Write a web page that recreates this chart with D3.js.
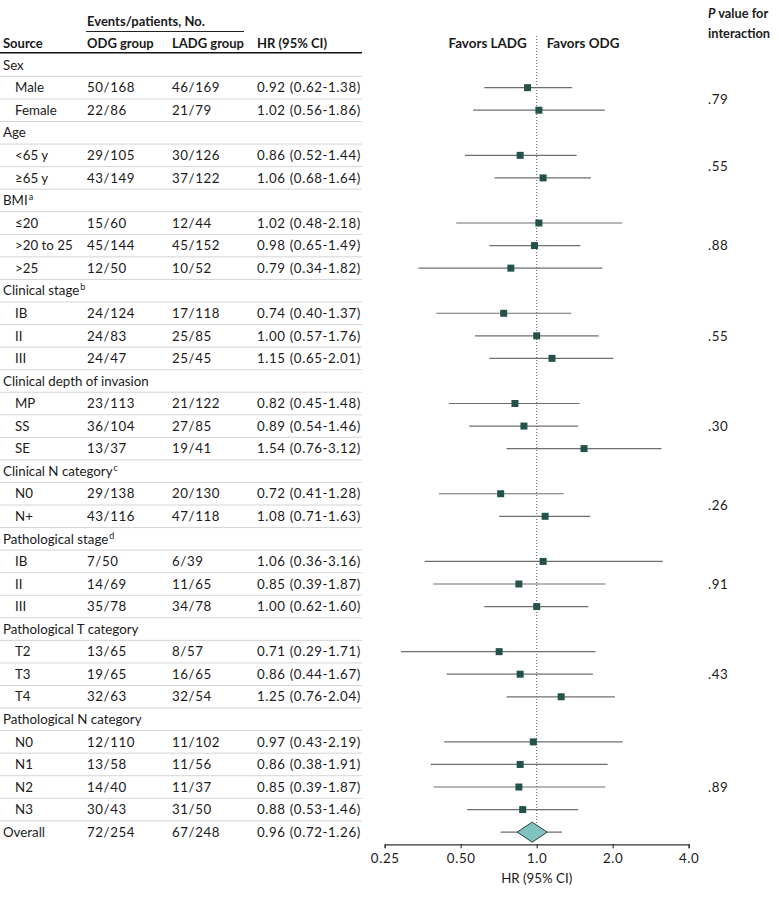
<!DOCTYPE html>
<html>
<head>
<meta charset="utf-8">
<script src="https://cdn.jsdelivr.net/npm/d3@7"></script>
<style>
  html, body { margin: 0; padding: 0; background: #fff; }
  svg { display: block; font-family: Lato, "Open Sans", sans-serif; }
</style>
</head>
<body>
<svg id="chart" width="780" height="897"></svg>
<script>
// ---------------- data ----------------
const groupNames = ["Sex", "Age", "BMI", "Clinical stage", "Clinical depth of invasion",
  "Clinical N category", "Pathological stage", "Pathological T category", "Pathological N category"];
const groupNotes = ["", "", "a", "b", "", "c", "d", "", ""];
const pValues = [".79", ".55", ".88", ".55", ".30", ".26", ".91", ".43", ".89"];

const subLabels = ["Male", "Female", "<65 y", "≥65 y", "≤20", ">20 to 25", ">25",
  "IB", "II", "III", "MP", "SS", "SE", "N0", "N+", "IB", "II", "III",
  "T2", "T3", "T4", "N0", "N1", "N2", "N3"];
const subGroup = [0, 0, 1, 1, 2, 2, 2, 3, 3, 3, 4, 4, 4, 5, 5, 6, 6, 6, 7, 7, 7, 8, 8, 8, 8];
const odgEvents = ["50/168", "22/86", "29/105", "43/149", "15/60", "45/144", "12/50",
  "24/124", "24/83", "24/47", "23/113", "36/104", "13/37", "29/138", "43/116",
  "7/50", "14/69", "35/78", "13/65", "19/65", "32/63", "12/110", "13/58", "14/40", "30/43"];
const ladgEvents = ["46/169", "21/79", "30/126", "37/122", "12/44", "45/152", "10/52",
  "17/118", "25/85", "25/45", "21/122", "27/85", "19/41", "20/130", "47/118",
  "6/39", "11/65", "34/78", "8/57", "16/65", "32/54", "11/102", "11/56", "11/37", "31/50"];
const hrValues = [0.92, 1.02, 0.86, 1.06, 1.02, 0.98, 0.79, 0.74, 1.00, 1.15, 0.82, 0.89, 1.54,
  0.72, 1.08, 1.06, 0.85, 1.00, 0.71, 0.86, 1.25, 0.97, 0.86, 0.85, 0.88];
const hrLower = [0.62, 0.56, 0.52, 0.68, 0.48, 0.65, 0.34, 0.40, 0.57, 0.65, 0.45, 0.54, 0.76,
  0.41, 0.71, 0.36, 0.39, 0.62, 0.29, 0.44, 0.76, 0.43, 0.38, 0.39, 0.53];
const hrUpper = [1.38, 1.86, 1.44, 1.64, 2.18, 1.49, 1.82, 1.37, 1.76, 2.01, 1.48, 1.46, 3.12,
  1.28, 1.63, 3.16, 1.87, 1.60, 1.71, 1.67, 2.04, 2.19, 1.91, 1.87, 1.46];

const overallLabel = "Overall";
const overallOdg = "72/254";
const overallLadg = "67/248";
const overallHR = 0.96, overallLower = 0.72, overallUpper = 1.26;

const axisTicks = [0.25, 0.5, 1, 2, 4];
const axisTickLabels = ["0.25", "0.50", "1.0", "2.0", "4.0"];

// ---------------- build rows ----------------
const rows = [];
groupNames.forEach((g, gi) => {
  rows.push({ type: "group", label: g, note: groupNotes[gi], gi });
  subLabels.forEach((s, i) => {
    if (subGroup[i] === gi) rows.push({ type: "sub", label: s, odg: odgEvents[i], ladg: ladgEvents[i],
      hr: hrValues[i], lo: hrLower[i], hi: hrUpper[i], gi });
  });
});
rows.push({ type: "overall", label: overallLabel, odg: overallOdg, ladg: overallLadg,
  hr: overallHR, lo: overallLower, hi: overallUpper });

// ---------------- layout ----------------
const svg = d3.select("#chart");
const textColor = "#1a1a1a";
const fs = 13.3;
const fsHead = 13;
const numSpacing = 0.6;
const rowY = d3.scaleLinear().domain([0, 1]).range([65.1, 65.1 + 22.56]);
const x = d3.scaleLog().base(2).domain([0.25, 4]).range([384.7, 688.7]);
const col = { src: 3, sub: 15, odg: 87, ladg: 172, hr: 257, tableEnd: 362, p: 708 };
const capHalf = 4.7;

// header
const hdr = svg.append("g").attr("font-size", fsHead).attr("fill", textColor).attr("font-weight", "bold");
hdr.append("text").attr("x", col.odg).attr("y", 21 + capHalf).text("Events/patients, No.");
svg.append("line").attr("x1", 86).attr("x2", 244).attr("y1", 31.5).attr("y2", 31.5)
  .attr("stroke", "#222").attr("stroke-width", 1);
hdr.append("text").attr("x", col.src).attr("y", 43 + capHalf).text("Source");
hdr.append("text").attr("x", col.odg).attr("y", 43 + capHalf).text("ODG group");
hdr.append("text").attr("x", col.ladg).attr("y", 43 + capHalf).text("LADG group");
hdr.append("text").attr("x", col.hr).attr("y", 43 + capHalf).text("HR (95% CI)");
svg.append("line").attr("x1", 0).attr("x2", col.tableEnd).attr("y1", 52.8).attr("y2", 52.8)
  .attr("stroke", "#111").attr("stroke-width", 1.6);

// P value header
const ph = hdr.append("text").attr("x", col.p).attr("y", 13.5 + capHalf).attr("font-size", 12.8);
ph.append("tspan").attr("font-style", "italic").text("P");
ph.append("tspan").text(" value for");
hdr.append("text").attr("x", col.p).attr("y", 33.3 + capHalf).attr("font-size", 12.8).text("interaction");

// favors labels
const fav = svg.append("g").attr("font-size", 13.4).attr("fill", textColor).attr("font-weight", "bold");
fav.append("text").attr("x", x(1) - 10).attr("y", 43.3 + capHalf).attr("text-anchor", "end").text("Favors LADG");
fav.append("text").attr("x", x(1) + 10).attr("y", 43.3 + capHalf).attr("text-anchor", "start").text("Favors ODG");

// separators
const sepG = svg.append("g");
rows.forEach((r, i) => {
  if (i < rows.length - 1) {
    const yy = (rowY(i) + rowY(i + 1)) / 2;
    sepG.append("line").attr("x1", 0).attr("x2", col.tableEnd).attr("y1", yy).attr("y2", yy)
      .attr("stroke", "#d4d4d4").attr("stroke-width", 1);
  }
});

// reference dotted line at HR = 1
svg.append("line").attr("x1", x(1)).attr("x2", x(1)).attr("y1", 36).attr("y2", rowY(rows.length - 1))
  .attr("stroke", "#555").attr("stroke-width", 1).attr("stroke-dasharray", "1,2");

// table text + marks
const tg = svg.append("g").attr("font-size", fs).attr("fill", textColor);
const mg = svg.append("g");
rows.forEach((r, i) => {
  const y = rowY(i);
  if (r.type === "group") {
    const t = tg.append("text").attr("x", col.src).attr("y", y + capHalf).text(r.label);
    if (r.note) t.append("tspan").attr("font-size", 9).attr("dy", -5).attr("dx", 1).text(r.note);
    return;
  }
  const lx = r.type === "overall" ? col.src : col.sub;
  tg.append("text").attr("x", lx).attr("y", y + capHalf).text(r.label);
  tg.append("text").attr("x", col.odg).attr("y", y + capHalf).attr("letter-spacing", numSpacing).text(r.odg);
  tg.append("text").attr("x", col.ladg).attr("y", y + capHalf).attr("letter-spacing", numSpacing).text(r.ladg);
  tg.append("text").attr("x", col.hr).attr("y", y + capHalf).attr("letter-spacing", numSpacing)
    .text(`${r.hr.toFixed(2)} (${r.lo.toFixed(2)}-${r.hi.toFixed(2)})`);

  mg.append("line").attr("x1", x(r.lo)).attr("x2", x(r.hi)).attr("y1", y).attr("y2", y)
    .attr("stroke", "#6e6e6e").attr("stroke-width", 1.2);
  if (r.type === "overall") {
    const cx = x(r.hr), w = 15, h = 10;
    mg.append("path")
      .attr("d", `M${cx - w},${y}L${cx},${y - h}L${cx + w},${y}L${cx},${y + h}Z`)
      .attr("fill", "#7fc4c1").attr("stroke", "#2c3e3c").attr("stroke-width", 1);
  } else {
    const s = 7;
    mg.append("rect").attr("x", x(r.hr) - s / 2).attr("y", y - s / 2).attr("width", s).attr("height", s)
      .attr("fill", "#23524d");
  }
});

// P values
groupNames.forEach((g, gi) => {
  const idx = rows.map((r, i) => (r.type === "sub" && r.gi === gi) ? i : -1).filter(i => i >= 0);
  const n = idx.length;
  const off = (n % 2 === 0 && n > 2) ? n / 2 : (n - 1) / 2;
  const yy = rowY(idx[0] + off);
  tg.append("text").attr("x", col.p).attr("y", yy + capHalf).attr("letter-spacing", numSpacing).text(pValues[gi]);
});

// axis
const axisY = 844.3;
const axis = d3.axisBottom(x).tickValues(axisTicks).tickSize(4).tickPadding(5)
  .tickFormat((d, i) => axisTickLabels[i]);
const ag = svg.append("g").attr("transform", `translate(0,${axisY})`).call(axis);
ag.select(".domain").attr("stroke", "#333").attr("stroke-width", 1.2);
ag.selectAll(".tick line").attr("stroke", "#333").attr("stroke-width", 1.2);
ag.selectAll(".tick text").attr("font-family", "Lato, 'Open Sans', sans-serif").attr("font-size", fs)
  .attr("letter-spacing", numSpacing).attr("fill", textColor);
svg.append("text").attr("x", x(1)).attr("y", 878 + capHalf).attr("text-anchor", "middle")
  .attr("font-size", fs).attr("fill", textColor).text("HR (95% CI)");
</script>
</body>
</html>
